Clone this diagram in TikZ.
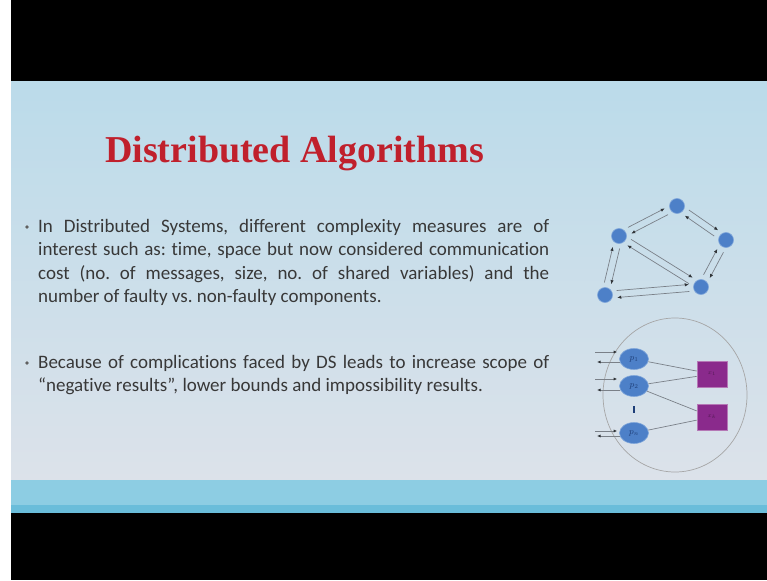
\documentclass[tikz,border=0pt]{standalone}
\usepackage{fontspec}
\setmainfont[Ligatures={TeX,NoCommon}]{Carlito}
\newfontfamily\titlefont{Liberation Serif}
\usetikzlibrary{arrows.meta,calc,shapes.geometric}
\frenchspacing

\definecolor{bgtop}{HTML}{BBDBEA}
\definecolor{bgmid}{HTML}{D3E3EC}
\definecolor{bgbot}{HTML}{DCE2EA}
\definecolor{barblue}{HTML}{8DCDE3}
\definecolor{barstripe}{HTML}{6ABDDA}
\definecolor{titlered}{HTML}{C0202C}
\definecolor{bodytext}{HTML}{383838}
\definecolor{nodeblue}{HTML}{4D80C8}
\definecolor{nodeedge}{HTML}{7FA6DA}
\definecolor{labelblue}{HTML}{1E3E78}
\definecolor{memfill}{HTML}{8A2A8C}
\definecolor{memedge}{HTML}{B578B6}
\definecolor{wire}{HTML}{7A8088}
\definecolor{tipgray}{HTML}{303438}

\tikzset{
  netnode/.style={circle, fill=nodeblue, draw=nodeedge, line width=0.6pt,
    minimum size=15pt, inner sep=0pt},
  procnode/.style={ellipse, fill=nodeblue, draw=nodeedge, line width=0.6pt,
    minimum width=29pt, minimum height=21pt, inner sep=0pt,
    text=labelblue, font=\fontsize{9}{9}\selectfont},
  memnode/.style={rectangle, fill=memfill, draw=memedge, line width=0.6pt,
    minimum width=30pt, minimum height=26pt, inner sep=0pt,
    text=memfill!60!black, font=\fontsize{6}{6}\selectfont},
  msg/.style={draw=wire, line width=0.7pt,
    -{Latex[length=4pt,width=3.5pt,color=tipgray]}, shorten <=12pt, shorten >=12pt},
  portarr/.style={draw=wire, line width=0.7pt,
    -{Latex[length=3.5pt,width=3pt,color=tipgray]}},
  link/.style={draw=wire, line width=0.7pt},
  bodypara/.style={anchor=base west, inner sep=0pt, text width=511pt,
    align=justify, text=bodytext, font=\fontsize{19}{23.5}\selectfont},
  bulletdot/.style={circle, fill=bodytext!80, inner sep=0pt, minimum size=3.6pt}
}

\begin{document}
\begin{tikzpicture}[x=1pt,y=-1pt]
\useasboundingbox (0,0) rectangle (767,580);

% frame: white edge, black bands, slide background
\fill[white] (0,0) rectangle (767,580);
\fill[black] (11,0) rectangle (767,82);
\shade[top color=bgtop, middle color=bgmid, bottom color=bgbot] (11,82) rectangle (767,480);
\fill[barblue] (11,480) rectangle (767,505);
\fill[barstripe] (11,505) rectangle (767,513);
\fill[black] (11,513) rectangle (767,580);

% title
\node[anchor=base west, inner sep=0pt, text=titlered,
      font=\titlefont\bfseries\fontsize{38}{40}\selectfont] (title) at (105,162)
  {Distributed Algorithms};

% bullet points
\node[bulletdot] (dot1) at (27,227) {};
\node[bodypara] (para1) at (38,232)
  {In Distributed Systems, different complexity measures are of\linebreak
   interest such as: time, space but now considered communication\linebreak
   cost (no. of messages, size, no. of shared variables) and the\linebreak
   number of faulty vs. non-faulty components.};

\node[bulletdot] (dot2) at (27,363) {};
\node[bodypara] (para2) at (38,368)
  {Because of complications faced by DS leads to increase scope of\linebreak
   ``negative results'', lower bounds and impossibility results.};

% message-passing network
\node[netnode] (t)  at (677,206) {};
\node[netnode] (l)  at (619,236) {};
\node[netnode] (r)  at (726,240) {};
\node[netnode] (bl) at (605,295) {};
\node[netnode] (br) at (701,287) {};
\foreach \a/\b in {l/t,t/l,t/r,r/t,l/bl,bl/l,l/br,br/l,r/br,br/r,bl/br,br/bl}
  \draw[msg] ($(\a)!3.5pt!90:(\b)$) -- ($(\b)!3.5pt!-90:(\a)$);

% shared-memory system
\node[ellipse, draw=gray!70, line width=0.7pt, minimum width=144pt,
      minimum height=154pt, inner sep=0pt] (sys) at (675,395) {};
\node[procnode] (p1) at (634,359) {$p_1$};
\node[procnode] (p2) at (634,386) {$p_2$};
\node[procnode] (pn) at (634,433) {$p_n$};
\node[memnode] (x1) at (712,374) {$x_1$};
\node[memnode] (x2) at (712,417) {$x_k$};

\draw[link] (p1) -- (x1);
\draw[link] (p2) -- (x1);
\draw[link] (p2) -- (x2);
\draw[link] (pn) -- (x2);

\draw[labelblue, line width=2pt] ($(p2)!0.5!(pn)+(0,-3.5)$) -- ($(p2)!0.5!(pn)+(0,3.5)$);

% external input/output ports of each process
\coordinate (in1)  at (595,352);
\coordinate (out1) at (597,362);
\coordinate (in2)  at (595,379);
\coordinate (out2) at (597,390);
\coordinate (inn)  at (595,431);
\coordinate (outn) at (597,436);
\draw[portarr] (in1)  -- ($(in1 -| p1.west)+(-2,0)$);
\draw[portarr] ($(out1 -| p1.west)+(1,0)$) -- (out1);
\draw[portarr] (in2)  -- ($(in2 -| p2.west)+(-2,0)$);
\draw[portarr] ($(out2 -| p2.west)+(1,0)$) -- (out2);
\draw[portarr] (inn)  -- ($(inn -| pn.west)+(-2,0)$);
\draw[portarr] ($(outn -| pn.west)+(1,0)$) -- (outn);
\end{tikzpicture}
\end{document}
